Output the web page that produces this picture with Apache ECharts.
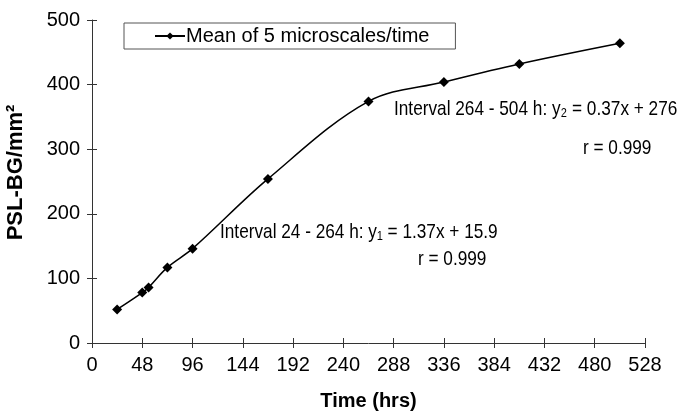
<!DOCTYPE html>
<html>
<head>
<meta charset="utf-8">
<script src="https://cdn.jsdelivr.net/npm/echarts@6/dist/echarts.min.js"></script>
<style>
  html, body { margin: 0; padding: 0; background: #fff; }
  #main { width: 682px; height: 413px; }
</style>
</head>
<body>
<div id="main"></div>
<script>
// hours and mean PSL-BG values
const hours = [24, 48, 54, 72, 96, 168, 264, 336, 408, 504];
const pslValues = [52, 78, 86, 117, 146, 254, 374, 404, 432, 464];
const seriesName = 'Mean of 5 microscales/time';

const FONT = "'Liberation Sans', Arial, sans-serif";
const INK = '#000';
const AXIS = '#333';
// Arial Narrow is not installed, so the fit texts are squeezed sideways
const NARROW = 0.82;

const chart = echarts.init(document.getElementById('main'));

function note(text, x, y) {
  return {
    type: 'text',
    x: x,
    y: y,
    scaleX: NARROW,
    style: { text: text, font: '21px ' + FONT, fill: INK, verticalAlign: 'top' }
  };
}

const option = {
  backgroundColor: '#fff',
  animation: false,
  textStyle: { fontFamily: FONT },
  grid: { left: 92, right: 37, top: 20, bottom: 70, outerBoundsMode: 'none' },
  legend: {
    left: 124,
    top: 23,
    padding: [3, 26, 3, 30],
    borderColor: '#555',
    borderWidth: 1,
    itemWidth: 30,
    itemHeight: 9,
    itemGap: 0,
    textStyle: { fontFamily: FONT, fontSize: 20, color: INK, padding: [0, 0, 0, -4] },
    data: [seriesName]
  },
  xAxis: [
    {
      type: 'value',
      min: 0,
      max: 528,
      interval: 48,
      name: 'Time (hrs)',
      nameLocation: 'middle',
      nameGap: 48,
      nameTextStyle: { fontFamily: FONT, fontWeight: 'bold', fontSize: 20, color: INK },
      splitLine: { show: false },
      axisLine: { onZero: false, lineStyle: { color: AXIS, width: 1 } },
      axisTick: { length: 5, lineStyle: { color: AXIS } },
      axisLabel: { fontFamily: FONT, fontSize: 20, color: INK, margin: 12 }
    },
    {
      type: 'value',
      min: 0,
      max: 528,
      interval: 48,
      position: 'bottom',
      splitLine: { show: false },
      axisLine: { show: false },
      axisTick: { inside: true, length: 5, lineStyle: { color: AXIS } },
      axisLabel: { show: false }
    }
  ],
  yAxis: [
    {
      type: 'value',
      min: 0,
      max: 500,
      interval: 100,
      name: 'PSL-BG/mm²',
      nameLocation: 'middle',
      nameGap: 65,
      nameRotate: 90,
      nameTextStyle: { fontFamily: FONT, fontWeight: 'bold', fontSize: 22, color: INK, padding: [0, 0, 0, 18] },
      splitLine: { show: false },
      axisLine: { show: true, lineStyle: { color: AXIS, width: 1 } },
      axisTick: { show: true, length: 5, lineStyle: { color: AXIS } },
      axisLabel: { fontFamily: FONT, fontSize: 20, color: INK, margin: 12 }
    },
    {
      type: 'value',
      min: 0,
      max: 500,
      interval: 100,
      position: 'left',
      splitLine: { show: false },
      axisLine: { show: false },
      axisTick: { show: true, inside: true, length: 5, lineStyle: { color: AXIS } },
      axisLabel: { show: false }
    }
  ],
  graphic: [
    note('Interval 264 - 504 h: y₂ = 0.37x + 276', 394, 99),
    note('r = 0.999', 583, 138),
    note('Interval 24 - 264 h: y₁ = 1.37x + 15.9', 220, 222),
    note('r = 0.999', 418, 249)
  ],
  series: [
    {
      name: seriesName,
      type: 'line',
      smooth: 0.35,
      data: hours.map((h, i) => [h, pslValues[i]]),
      symbol: 'diamond',
      symbolSize: 10,
      itemStyle: { color: INK },
      lineStyle: { color: INK, width: 1.5 }
    }
  ]
};

chart.setOption(option);
</script>
</body>
</html>
